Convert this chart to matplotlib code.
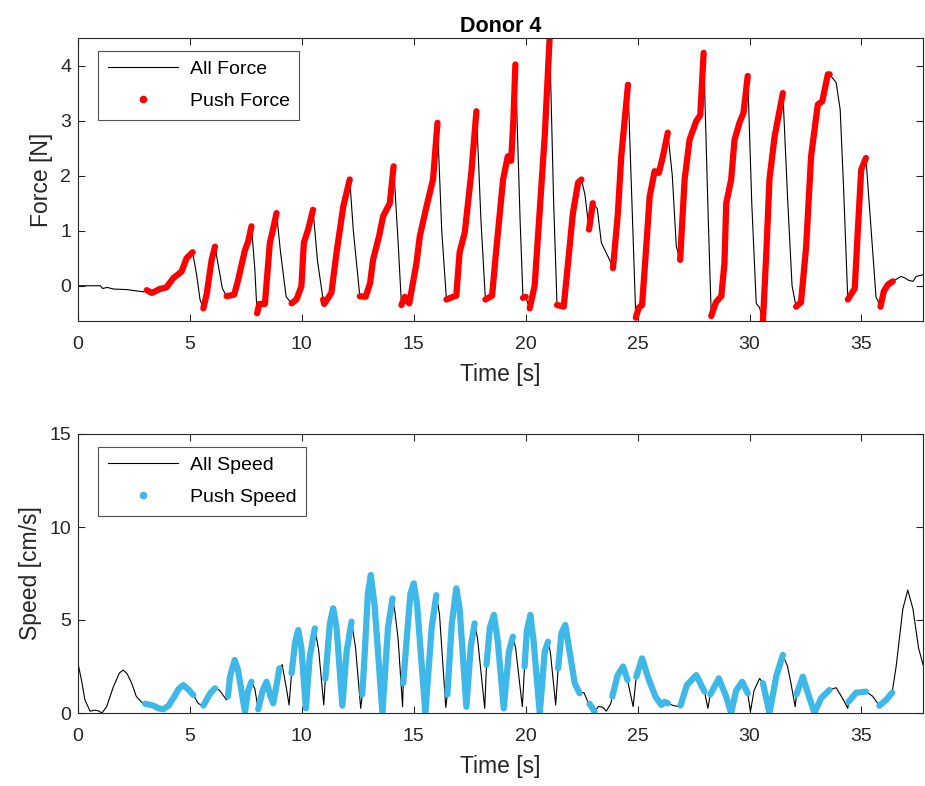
import numpy as np
import matplotlib
matplotlib.use("Agg")
import matplotlib.pyplot as plt
from matplotlib.lines import Line2D

plt.rcParams['font.family'] = ['Liberation Sans', 'DejaVu Sans']

# ---------------- data ----------------
title = "Donor 4"
xlabel = "Time [s]"
force_label = "Force [N]"
speed_label = "Speed [cm/s]"
force_legend = ["All Force", "Push Force"]
speed_legend = ["All Speed", "Push Speed"]

force_t = [0.0, 1.0, 1.1, 1.3, 1.6, 2.2, 2.9, 3.07, 3.3, 3.65, 3.95, 4.26, 4.45, 4.63, 4.85, 5.12,
           5.3, 5.45, 5.6, 5.75, 5.97, 6.12, 6.3, 6.45, 6.64, 6.98, 7.15, 7.46, 7.6, 7.75,
           7.9, 8.0, 8.1, 8.35, 8.57, 8.7, 8.87, 9.05, 9.3, 9.54, 9.76, 9.98, 10.09, 10.28, 10.5,
           10.7, 10.95, 11.0, 11.32, 11.55, 11.85, 12.14, 12.3, 12.59, 12.85, 13.05, 13.18, 13.45,
           13.63, 13.93, 14.1, 14.3, 14.45, 14.6, 14.8, 15.12, 15.27, 15.57, 15.86, 16.06,
           16.25, 16.46, 16.7, 16.9, 17.05, 17.28, 17.57, 17.8, 18.0, 18.2, 18.5, 18.65, 18.99,
           19.2, 19.35, 19.45, 19.54, 19.75, 19.88, 20.0, 20.08, 20.18, 20.4, 20.63, 20.85, 21.07,
           21.25, 21.4, 21.7, 21.89, 22.11, 22.34, 22.49, 22.65, 22.83, 23.0, 23.2, 23.38, 23.75,
           23.9, 24.12, 24.27, 24.57, 24.75, 24.92, 25.05, 25.2, 25.35, 25.54, 25.76, 25.95,
           26.13, 26.35, 26.55, 26.73, 26.9, 27.1, 27.32, 27.62, 27.8, 27.95, 28.15, 28.29,
           28.5, 28.74, 28.88, 28.96, 29.18, 29.33, 29.55, 29.73, 29.92, 30.1, 30.3, 30.45,
           30.6, 30.75, 30.89, 31.12, 31.49, 31.7, 31.9, 32.08, 32.3, 32.53, 32.75, 33.05,
           33.25, 33.5, 33.58, 33.87, 34.05, 34.2, 34.39, 34.7, 34.84, 34.99, 35.2, 35.4, 35.65,
           35.85, 36.0, 36.18, 36.4, 36.77, 36.95, 37.1, 37.3, 37.45, 37.75]
force_v = [0.0, 0.0, -0.05, -0.03, -0.06, -0.07, -0.11, -0.08, -0.13, -0.06, -0.03, 0.14, 0.2, 0.26, 0.5, 0.61,
           0.2, -0.25, -0.41, -0.15, 0.47, 0.71, 0.3, -0.05, -0.19, -0.16, 0.1, 0.65, 0.8, 1.08,
           0.3, -0.5, -0.33, -0.33, 0.78, 1.0, 1.32, 0.6, -0.2, -0.32, -0.25, -0.01, 0.78, 1.02, 1.38,
           0.45, -0.25, -0.33, -0.13, 0.6, 1.44, 1.93, 1.0, -0.19, -0.2, 0.05, 0.47, 0.9,
           1.26, 1.5, 2.17, 0.8, -0.35, -0.2, -0.32, 0.41, 0.9, 1.44, 1.93, 2.96,
           1.0, -0.25, -0.21, -0.18, 0.61, 0.97, 2.05, 3.17, 1.2, -0.25, -0.18, 0.5, 1.93,
           2.35, 2.27, 3.0, 4.02, 1.2, -0.22, -0.2, -0.3, -0.41, 0.0, 1.38, 2.71, 4.5,
           1.5, -0.35, -0.38, 0.41, 1.32, 1.87, 1.93, 1.65, 1.02, 1.5, 1.4, 0.78, 0.47,
           0.32, 1.32, 2.35, 3.65, 1.5, -0.58, -0.4, -0.35, 0.5, 1.62, 2.08, 2.05,
           2.35, 2.78, 2.0, 0.71, 0.47, 1.93, 2.65, 2.99, 3.1, 4.23, 1.3, -0.55,
           -0.3, -0.19, 0.41, 1.5, 1.93, 2.65, 2.96, 3.14, 3.81, 1.5, -0.32, -0.4,
           -0.64, 0.6, 1.93, 2.71, 3.5, 1.6, 0.0, -0.38, -0.3, 0.71, 2.35, 3.29,
           3.35, 3.84, 3.84, 3.69, 3.2, 1.8, -0.25, -0.05, 1.02, 2.11, 2.32, 1.2, -0.2,
           -0.38, -0.1, 0.02, 0.08, 0.17, 0.14, 0.1, 0.08, 0.17, 0.2]
force_push = [0, 0, 0, 0, 0, 0, 0, 1, 1, 1, 1, 1, 1, 1, 1, 1,
              0, 0, 1, 1, 1, 1, 0, 0, 1, 1, 1, 1, 1, 1,
              0, 1, 1, 1, 1, 1, 1, 0, 0, 1, 1, 1, 1, 1, 1,
              0, 1, 1, 1, 1, 1, 1, 0, 1, 1, 1, 1, 1,
              1, 1, 1, 0, 1, 1, 1, 1, 1, 1, 1, 1,
              0, 1, 1, 1, 1, 1, 1, 1, 0, 1, 1, 1, 1,
              1, 1, 1, 1, 0, 1, 1, 0, 1, 1, 1, 1, 1,
              0, 1, 1, 1, 1, 1, 1, 0, 1, 1, 0, 0, 0,
              1, 1, 1, 1, 0, 1, 1, 1, 1, 1, 1, 1,
              1, 1, 0, 0, 1, 1, 1, 1, 1, 1, 0, 1,
              1, 1, 1, 1, 1, 1, 1, 1, 1, 0, 0, 0,
              1, 1, 1, 1, 1, 0, 0, 1, 1, 1, 1, 1,
              1, 1, 1, 0, 0, 0, 1, 1, 1, 1, 1, 0, 0,
              1, 1, 1, 1, 0, 0, 0, 0, 0, 0]

speed_t = [0.0, 0.15, 0.31, 0.54, 0.75, 0.9, 1.07, 1.28, 1.58, 1.85, 2.02, 2.2, 2.4, 2.6, 2.92,
           3.0, 3.36, 3.6, 3.81, 4.05, 4.26, 4.5, 4.7, 4.9, 5.15, 5.38, 5.6, 5.9, 6.12, 6.3, 6.64,
           6.7, 6.79, 7.0, 7.15, 7.3, 7.46, 7.6, 7.75, 7.9, 8.05, 8.25, 8.42, 8.6, 8.72, 8.87, 9.0,
           9.12, 9.3, 9.43, 9.54, 9.7, 9.84, 9.98, 10.18, 10.35, 10.58, 10.75, 10.98,
           11.05, 11.25, 11.4, 11.55, 11.81, 12.0, 12.22, 12.4, 12.63,
           12.7, 12.8, 12.95, 13.08, 13.25, 13.6, 13.85, 14.05, 14.15, 14.3, 14.5,
           14.53, 14.7, 14.85, 15.0, 15.15, 15.52, 15.8, 16.01, 16.15, 16.43,
           16.5, 16.7, 16.9, 17.05, 17.35, 17.55, 17.72, 17.85, 18.17,
           18.25, 18.4, 18.58, 18.75, 19.02, 19.25, 19.43, 19.55, 19.85,
           19.95, 20.05, 20.21, 20.35, 20.63, 20.85, 21.0, 21.1, 21.34,
           21.45, 21.6, 21.77, 21.95, 22.19, 22.41, 22.6, 22.78,
           22.85, 23.08, 23.25, 23.45, 23.6, 23.8,
           23.87, 24.1, 24.35, 24.55, 24.65, 24.8,
           24.94, 25.2, 25.5, 25.8, 26.06, 26.2, 26.35, 26.6, 26.88,
           26.92, 27.2, 27.62, 27.99, 28.14,
           28.25, 28.63, 28.95, 29.18, 29.4, 29.67, 29.92, 30.04, 30.2, 30.45,
           30.6, 30.89, 31.2, 31.49, 31.7, 31.85, 32.04,
           32.1, 32.38, 32.65, 32.9, 33.2, 33.57, 33.87, 34.15, 34.39,
           34.42, 34.76, 35.2, 35.5, 35.8, 36.1, 36.37,
           36.55, 36.85, 37.07, 37.3, 37.55, 37.75]
speed_v = [2.67, 1.8, 0.7, 0.1, 0.15, 0.12, 0.0, 0.34, 1.41, 2.15, 2.31, 2.1, 1.6, 0.9, 0.48,
           0.5, 0.4, 0.25, 0.2, 0.4, 0.8, 1.3, 1.5, 1.3, 0.97, 0.5, 0.4, 1.05, 1.33, 1.25, 0.7,
           0.9, 1.95, 2.85, 2.3, 1.2, 0.07, 1.2, 1.68, 1.3, 0.2, 1.2, 1.68, 0.9, 0.52, 1.5, 2.4,
           2.6, 1.4, 0.43, 2.13, 3.8, 4.46, 3.5, 0.25, 3.0, 4.55, 3.4, 0.43,
           1.85, 4.8, 5.63, 4.6, 0.4, 3.3, 4.91, 3.5, 0.25,
           1.0, 3.0, 6.4, 7.42, 5.8, 0.0, 4.6, 6.16, 5.5, 4.0, 0.34,
           1.6, 4.2, 6.4, 6.97, 5.8, 0.0, 4.6, 6.34, 5.3, 0.3,
           1.0, 4.8, 6.7, 5.6, 0.34, 3.6, 4.82, 4.0, 0.25,
           2.6, 4.6, 5.27, 3.9, 0.25, 3.3, 4.1, 3.5, 0.34,
           2.5, 4.4, 5.27, 3.9, 0.0, 3.3, 3.83, 3.3, 0.43,
           2.4, 4.3, 4.73, 3.4, 1.6, 1.06, 1.1, 0.6,
           0.5, 0.07, 0.35, 0.3, 0.1, 0.5,
           0.88, 2.0, 2.5, 1.77, 1.2, 0.34,
           1.95, 2.94, 1.8, 0.88, 0.43, 0.6, 0.52, 0.4, 0.34,
           0.4, 1.5, 2.04, 1.15, 0.25,
           1.0, 1.86, 0.9, 0.0, 1.2, 1.68, 1.06, 0.07, 1.2, 1.86,
           1.6, 0.0, 2.0, 3.12, 2.5, 1.6, 0.34,
           1.0, 1.95, 0.9, 0.02, 0.8, 1.24, 1.36, 0.8, 0.25,
           0.6, 1.09, 1.15, 0.9, 0.39, 0.7, 1.09,
           2.5, 5.6, 6.61, 5.6, 3.5, 2.6]
speed_push = [0, 0, 0, 0, 0, 0, 0, 0, 0, 0, 0, 0, 0, 0, 0,
              1, 1, 1, 1, 1, 1, 1, 1, 1, 1, 0, 1, 1, 1, 0, 0,
              1, 1, 1, 1, 1, 1, 1, 1, 0, 1, 1, 1, 1, 1, 1, 1,
              0, 0, 0, 1, 1, 1, 1, 1, 1, 1, 0, 0,
              1, 1, 1, 1, 1, 1, 1, 0, 0,
              1, 1, 1, 1, 1, 1, 1, 1, 0, 0, 0,
              1, 1, 1, 1, 1, 1, 1, 1, 0, 0,
              1, 1, 1, 1, 1, 1, 1, 0, 0,
              1, 1, 1, 1, 1, 1, 1, 0, 0,
              1, 1, 1, 1, 1, 1, 1, 0, 0,
              1, 1, 1, 1, 1, 1, 0, 0,
              1, 1, 0, 0, 0, 0,
              1, 1, 1, 1, 0, 0,
              1, 1, 1, 1, 1, 1, 1, 0, 0,
              1, 1, 1, 1, 0,
              1, 1, 1, 1, 1, 1, 1, 0, 0, 0,
              1, 1, 1, 1, 0, 0, 0,
              1, 1, 1, 1, 1, 1, 0, 0, 0,
              1, 1, 1, 0, 1, 1, 1,
              0, 0, 0, 0, 0, 0]

# ---------------- style ----------------
W, H = 925, 786
fig = plt.figure(figsize=(W / 100, H / 100), dpi=100)
ax1 = fig.add_axes([78 / W, 1 - 321 / H, 845 / W, 283 / H])
ax2 = fig.add_axes([78 / W, 1 - 713 / H, 845 / W, 279 / H])

gray = '#262626'
red = '#FF0000'
blue = '#3DB8E8'


def push_series(t, v, flags):
    v = np.asarray(v, float)
    f = np.asarray(flags, bool)
    return np.asarray(t, float), np.where(f, v, np.nan)


def style(ax, ylabel, yticks, ylim):
    ax.set_xlim(0, 37.75)
    ax.set_ylim(*ylim)
    ax.set_xticks([0, 5, 10, 15, 20, 25, 30, 35])
    ax.set_yticks(yticks)
    ax.tick_params(direction='in', top=True, right=True, length=5, width=0.8,
                   colors=gray, labelsize=14, labelcolor=gray, pad=5)
    ax.tick_params(axis='x', pad=11)
    for s in ax.spines.values():
        s.set_color(gray)
        s.set_linewidth(0.8)
    ax.set_xlabel(xlabel, fontsize=16.5, color=gray, labelpad=7)
    ax.set_ylabel(ylabel, fontsize=16.5, color=gray, labelpad=5)


def legend(ax, color, labels):
    h = [Line2D([], [], color='black', lw=0.8),
         Line2D([], [], color=color, ls='none', marker='o', markersize=4.5)]
    leg = ax.legend(h, labels, loc='upper left', bbox_to_anchor=(0.024, 0.955),
                    fontsize=14, frameon=True, fancybox=False, edgecolor=gray,
                    handlelength=3.6, handletextpad=0.6, borderpad=0.5, labelspacing=0.75,
                    borderaxespad=0)
    leg.get_frame().set_linewidth(0.8)
    return leg


# Force
ax1.plot(force_t, force_v, color='black', lw=0.8)
pt, pv = push_series(force_t, force_v, force_push)
ax1.plot(pt, pv, color=red, lw=4.5, solid_capstyle='round', solid_joinstyle='round')
style(ax1, force_label, [0, 1, 2, 3, 4], (-0.64, 4.5))
ax1.set_title(title, fontsize=15.5, fontweight='bold', color='black', pad=4)
legend(ax1, red, force_legend)

# Speed
ax2.plot(speed_t, speed_v, color='black', lw=0.8)
st, sv = push_series(speed_t, speed_v, speed_push)
ax2.plot(st, sv, color=blue, lw=4.5, solid_capstyle='round', solid_joinstyle='round')
style(ax2, speed_label, [0, 5, 10, 15], (0, 15))
legend(ax2, blue, speed_legend)

fig.savefig('out.png', dpi=100)
